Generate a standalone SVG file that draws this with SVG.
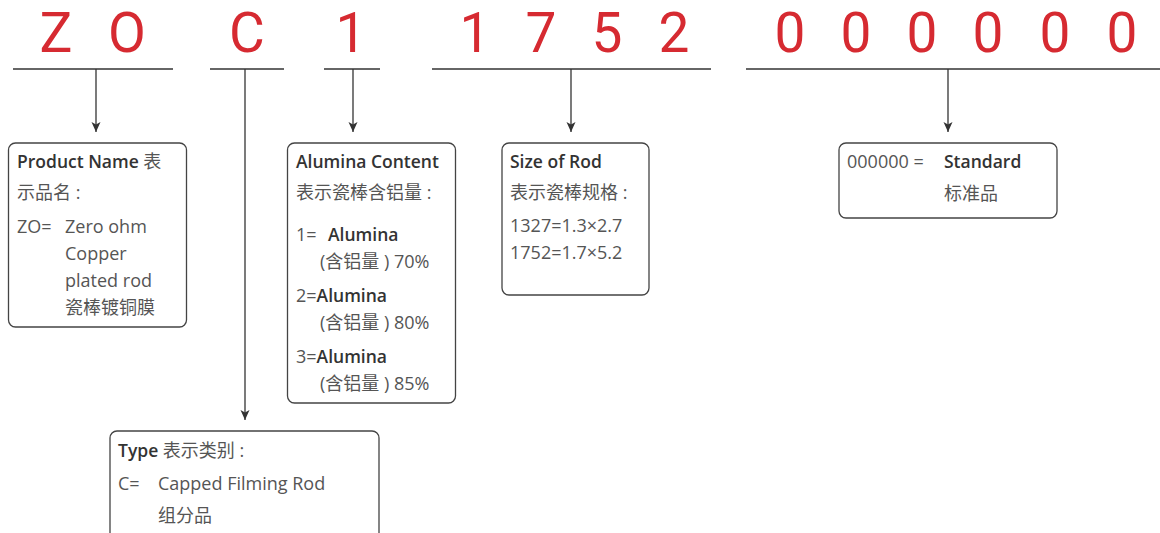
<svg xmlns="http://www.w3.org/2000/svg" width="1160" height="533" viewBox="0 0 1160 533">
<style>
.code{font-family:Roboto,"Liberation Sans",sans-serif;font-size:55px;fill:#d62a31;text-anchor:middle}
.t{font-family:"Open Sans","Noto Sans CJK SC",sans-serif;font-size:18px;fill:#555}
.b{font-family:"Open Sans","Noto Sans CJK SC",sans-serif;font-size:17.5px;font-weight:600;fill:#333}
.box{fill:#fff;stroke:#444;stroke-width:1.3}
.ln{stroke:#333;stroke-width:1.3;fill:none}
</style>
<defs>
<marker id="ah" viewBox="0 0 10 10" refX="10" refY="5" markerWidth="10" markerHeight="10" markerUnits="userSpaceOnUse" orient="auto">
<path d="M0,0.5 L10,5 L0,9.5 L2.5,5 z" fill="#333"/>
</marker>
</defs>
<g id="code">
<text class="code" x="56" y="52">Z</text>
<text class="code" x="127" y="52">O</text>
<text class="code" x="247" y="52">C</text>
<text class="code" x="351" y="52">1</text>
<text class="code" x="475" y="52">1</text>
<text class="code" x="541" y="52">7</text>
<text class="code" x="607" y="52">5</text>
<text class="code" x="674" y="52">2</text>
<text class="code" x="790" y="52">0</text>
<text class="code" x="856" y="52">0</text>
<text class="code" x="922" y="52">0</text>
<text class="code" x="988" y="52">0</text>
<text class="code" x="1055" y="52">0</text>
<text class="code" x="1122" y="52">0</text>
</g>
<g id="connectors">
<line class="ln" x1="13" y1="69" x2="173" y2="69"/>
<line class="ln" x1="210" y1="69" x2="284" y2="69"/>
<line class="ln" x1="324" y1="69" x2="380" y2="69"/>
<line class="ln" x1="432" y1="69" x2="711" y2="69"/>
<line class="ln" x1="746" y1="69" x2="1160" y2="69"/>
<line class="ln" x1="96" y1="69" x2="96" y2="132" marker-end="url(#ah)"/>
<line class="ln" x1="245" y1="69" x2="245" y2="420" marker-end="url(#ah)"/>
<line class="ln" x1="353" y1="69" x2="353" y2="132" marker-end="url(#ah)"/>
<line class="ln" x1="571" y1="69" x2="571" y2="132" marker-end="url(#ah)"/>
<line class="ln" x1="948" y1="69" x2="948" y2="132" marker-end="url(#ah)"/>
</g>
<g id="product-name">
<rect class="box" x="8.5" y="143" width="178" height="184" rx="7"/>
<text class="b" x="17" y="168">Product Name <tspan class="t" style="font-weight:normal">表</tspan></text>
<text class="t" x="17" y="199">示品名 :</text>
<text class="t" x="17" y="233">ZO=</text>
<text class="t" x="65" y="233">Zero ohm</text>
<text class="t" x="65" y="260">Copper</text>
<text class="t" x="65" y="287">plated rod</text>
<text class="t" x="65" y="314">瓷棒镀铜膜</text>
</g>
<g id="alumina-content">
<rect class="box" x="287.5" y="143" width="168" height="260" rx="7"/>
<text class="b" x="296" y="168">Alumina Content</text>
<text class="t" x="296" y="199">表示瓷棒含铝量 :</text>
<text class="t" x="296" y="241">1=</text>
<text class="b" x="328" y="241">Alumina</text>
<text class="t" x="320" y="268">(含铝量 ) 70%</text>
<text class="t" x="296" y="302">2=<tspan class="b">Alumina</tspan></text>
<text class="t" x="320" y="329">(含铝量 ) 80%</text>
<text class="t" x="296" y="363">3=<tspan class="b">Alumina</tspan></text>
<text class="t" x="320" y="390">(含铝量 ) 85%</text>
</g>
<g id="size-of-rod">
<rect class="box" x="502" y="143" width="147" height="152" rx="7"/>
<text class="b" x="510" y="168">Size of Rod</text>
<text class="t" x="510" y="199">表示瓷棒规格 :</text>
<text class="t" x="510" y="232">1327=1.3×2.7</text>
<text class="t" x="510" y="259">1752=1.7×5.2</text>
</g>
<g id="standard">
<rect class="box" x="839" y="143" width="218" height="75" rx="7"/>
<text class="t" x="847" y="168">000000 =</text>
<text class="b" x="944" y="168">Standard</text>
<text class="t" x="944" y="200">标准品</text>
</g>
<g id="type">
<rect class="box" x="110" y="431" width="269" height="120" rx="7"/>
<text class="b" x="118" y="457">Type <tspan class="t" style="font-weight:normal">表示类别 :</tspan></text>
<text class="t" x="118" y="490">C=</text>
<text class="t" x="158" y="490">Capped Filming Rod</text>
<text class="t" x="158" y="522">组分品</text>
</g>
</svg>
